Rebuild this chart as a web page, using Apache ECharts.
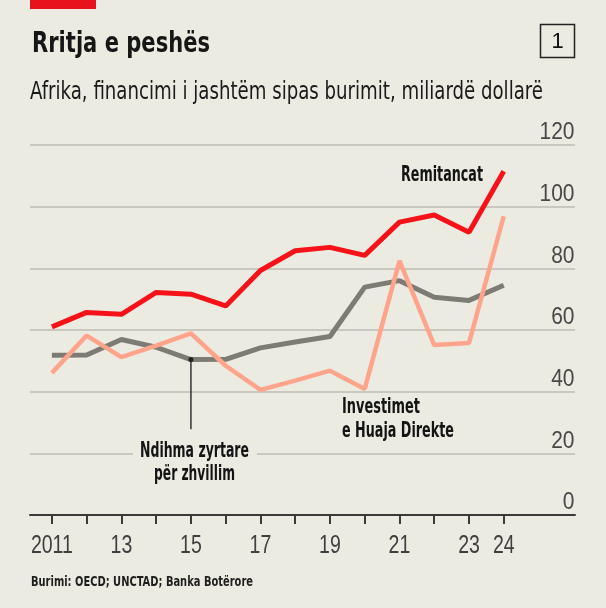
<!DOCTYPE html>
<html>
<head>
<meta charset="utf-8">
<script src="https://cdn.jsdelivr.net/npm/echarts@6/dist/echarts.min.js"></script>
<style>
  html, body { margin: 0; padding: 0; background: #ecebe1; }
  #chart { width: 606px; height: 608px; }
</style>
</head>
<body>
<div id="chart"></div>
<script>
var years = [2011, 2012, 2013, 2014, 2015, 2016, 2017, 2018, 2019, 2020, 2021, 2022, 2023, 2024];
var remittances = [61.0, 65.7, 65.1, 72.2, 71.6, 67.8, 79.3, 85.7, 86.8, 84.2, 95.0, 97.3, 91.7, 111.5];
var oda = [51.8, 51.9, 56.9, 54.4, 50.4, 50.5, 54.2, 56.1, 57.9, 73.9, 76.0, 70.6, 69.6, 74.5];
var fdi = [46.1, 58.2, 51.2, 54.9, 58.9, 48.4, 40.6, 43.6, 46.8, 40.9, 82.4, 55.1, 55.8, 96.9];
var xLabelYears = [2011, 2013, 2015, 2017, 2019, 2021, 2023, 2024];
var xLabelTexts = ['2011', '13', '15', '17', '19', '21', '23', '24'];
var yTicks = [0, 20, 40, 60, 80, 100, 120];

var COND = '"DejaVu Sans Condensed", "DejaVu Sans", sans-serif';
var NUM = '"Liberation Sans", Arial, sans-serif';
var BG = '#ecebe1';
var X_MIN = 2010.37, X_MAX = 2026.05;

function pairs(vals) { return years.map(function (y, i) { return [y, vals[i]]; }); }

var measureCtx = document.createElement('canvas').getContext('2d');
function measure(text, font) { measureCtx.font = font; return measureCtx.measureText(text).width; }
function fitText(text, x, y, font, width, align, extra) {
  var s = width / measure(text, font);
  var style = { text: text, x: 0, y: 0, font: font, fill: '#141414',
    textAlign: align || 'left', textVerticalAlign: 'middle' };
  if (extra) { for (var k in extra) style[k] = extra[k]; }
  return { type: 'text', z: 10, x: x, y: y, scaleX: s, style: style };
}

var chart = echarts.init(document.getElementById('chart'), null, { renderer: 'canvas' });

var baseGraphic = [
  { type: 'rect', z: 10, shape: { x: 30, y: 0, width: 66, height: 9 }, style: { fill: '#e8121a' } },
  fitText('Rritja e peshës', 32, 45, 'bold 27.5px ' + COND, 178, 'left', { fill: '#161616' }),
  { type: 'rect', z: 10, shape: { x: 540.5, y: 24.5, width: 34, height: 33 },
    style: { fill: 'none', stroke: '#222', lineWidth: 1.5 } },
  { type: 'text', z: 10, style: { text: '1', x: 557.5, y: 41.5, textAlign: 'center', textVerticalAlign: 'middle',
    font: '22px ' + NUM, fill: '#111' } },
  fitText('Afrika, financimi i jashtëm sipas burimit, miliardë dollarë', 30, 92.5, '25px ' + COND, 513, 'left', { fill: '#1a1a1a' }),
  fitText('Remitancat', 401, 175.5, 'bold 21px ' + COND, 82, 'left'),
  fitText('Investimet', 342, 407.5, 'bold 21px ' + COND, 78, 'left'),
  fitText('e Huaja Direkte', 342, 431.5, 'bold 21px ' + COND, 112, 'left'),
  { type: 'rect', z: 9, shape: { x: 133, y: 447, width: 124, height: 14 }, style: { fill: BG } },
  fitText('Ndihma zyrtare', 194.5, 452, 'bold 21px ' + COND, 109, 'center'),
  fitText('për zhvillim', 194.5, 474.5, 'bold 21px ' + COND, 81, 'center'),
  fitText('Burimi: OECD; UNCTAD; Banka Botërore', 31, 582, 'bold 14px ' + COND, 222, 'left', { fill: '#1e1e1e' })
];

var option = {
  backgroundColor: BG,
  animation: false,
  grid: { left: 30, right: 31, top: 145, bottom: 93, containLabel: false },
  xAxis: {
    type: 'value',
    min: X_MIN,
    max: X_MAX,
    axisLine: { show: true, onZero: false, lineStyle: { color: '#3a3a3a', width: 2 } },
    axisTick: { show: true, customValues: years, length: 9, lineStyle: { color: '#3a3a3a', width: 2 } },
    axisLabel: { show: false },
    splitLine: { show: false }
  },
  yAxis: {
    type: 'value',
    min: yTicks[0],
    max: yTicks[yTicks.length - 1],
    interval: 20,
    position: 'right',
    axisLine: { show: false },
    axisTick: { show: false },
    axisLabel: { show: false },
    splitLine: { show: true, lineStyle: { color: '#cac8be', width: 2 } }
  },
  series: [
    {
      name: 'Ndihma zyrtare për zhvillim', type: 'line', data: pairs(oda),
      symbol: 'none', lineStyle: { color: '#7d7b73', width: 5 }, z: 2
    },
    {
      name: 'Leader', type: 'line', z: 4,
      data: [
        { value: [years[4], oda[4]], symbol: 'circle', symbolSize: 5 },
        { value: [years[4], 27.8], symbol: 'none' }
      ],
      lineStyle: { color: '#333', width: 1.5 },
      itemStyle: { color: '#222' }
    },
    {
      name: 'Investimet e Huaja Direkte', type: 'line', data: pairs(fdi),
      symbol: 'none', lineStyle: { color: '#ffa48c', width: 4.5 }, z: 3
    },
    {
      name: 'Remitancat', type: 'line', data: pairs(remittances),
      symbol: 'none', lineStyle: { color: '#f7121a', width: 5 }, z: 5
    }
  ],
  graphic: baseGraphic
};
chart.setOption(option);

// Axis tick labels placed through the axes' own scales (condensed rendering)
var xFont = '25.5px ' + NUM, yFont = '24.5px ' + NUM;
var sx = 42 / measure('2011', xFont);
var sy = 35 / measure('120', yFont);
var zeroPx = chart.convertToPixel({ yAxisIndex: 0 }, 0);
var rightPx = chart.convertToPixel({ xAxisIndex: 0 }, X_MAX);
var labelGraphic = [];
xLabelYears.forEach(function (v, i) {
  labelGraphic.push({ type: 'text', z: 10, x: chart.convertToPixel({ xAxisIndex: 0 }, v), y: zeroPx + 30.5, scaleX: sx,
    style: { text: xLabelTexts[i], x: 0, y: 0, font: xFont, fill: '#3f3f3f', textAlign: 'center', textVerticalAlign: 'middle' } });
});
yTicks.forEach(function (v) {
  labelGraphic.push({ type: 'text', z: 10, x: rightPx - 0.5, y: chart.convertToPixel({ yAxisIndex: 0 }, v) - 12.3, scaleX: sy,
    style: { text: String(v), x: 0, y: 0, font: yFont, fill: '#484848', textAlign: 'right', textVerticalAlign: 'middle' } });
});
chart.setOption({ graphic: baseGraphic.concat(labelGraphic) });
</script>
</body>
</html>
